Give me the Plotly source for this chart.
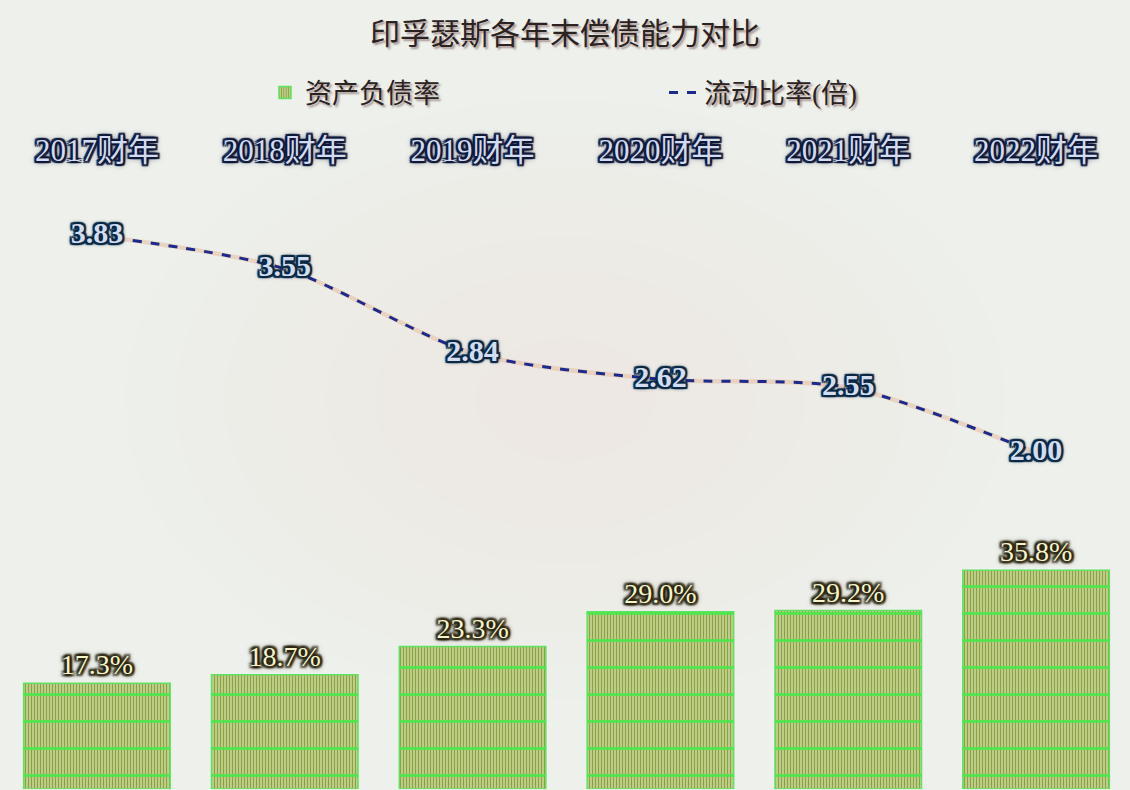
import plotly.graph_objects as go

categories = ["2017财年", "2018财年", "2019财年", "2020财年", "2021财年", "2022财年"]
debt_ratio = [17.3, 18.7, 23.3, 29.0, 29.2, 35.8]
current_ratio = [3.83, 3.55, 2.84, 2.62, 2.55, 2.00]

SERIF = "Liberation Serif, Times New Roman, Noto Sans CJK SC, serif"


def outline(color, r=2, blur=1, glow=4):
    parts = []
    for dx, dy in [(r, 0), (-r, 0), (0, r), (0, -r), (r, r), (-r, -r), (r, -r), (-r, r)]:
        parts.append(f"{dx}px {dy}px {blur}px {color}")
    parts.append(f"0 0 {glow}px {color}")
    return ", ".join(parts)


fig = go.Figure()

# Bars: vertical stripes
fig.add_trace(go.Bar(
    x=categories, y=debt_ratio, name="资产负债率",
    marker=dict(
        color="#c8d894",
        line=dict(color="#5fe25f", width=1.5),
        pattern=dict(shape="|", size=3, solidity=0.5, fgcolor="#8c9e46", bgcolor="#cbdb98", fillmode="replace"),
    ),
    texttemplate="%{y:.1f}%", textposition="outside",
    textfont=dict(family=SERIF, size=28, color="#f3f3cc", shadow=outline("#2a2410", 2, 2, 6)),
    cliponaxis=False, legend="legend", yaxis="y",
))
# Bars: horizontal bright green band lines
fig.add_trace(go.Bar(
    x=categories, y=debt_ratio, showlegend=False, hoverinfo="skip",
    marker=dict(
        color="rgba(255,255,255,0.01)",
        line=dict(width=0),
        pattern=dict(shape="-", size=27, solidity=0.1, fgcolor="#4de64d", fgopacity=1,
                     bgcolor="rgba(255,255,255,0.01)", fillmode="replace"),
    ),
    yaxis="y",
))

# Line glow underlay
fig.add_trace(go.Scatter(
    x=categories, y=current_ratio, mode="lines", showlegend=False, hoverinfo="skip",
    line=dict(color="rgba(230,190,160,0.55)", width=4.5, shape="spline", smoothing=0.8),
    yaxis="y2",
))
fig.add_trace(go.Scatter(
    x=categories, y=current_ratio, mode="lines+text", name="流动比率(倍)",
    line=dict(color="#1b2a8c", width=3, dash="dash", shape="spline", smoothing=0.8),
    text=[f"{v:.2f}" for v in current_ratio], textposition="middle center",
    textfont=dict(family=SERIF, size=30, color="#d3ddef", weight="bold", shadow=outline("#0b2a45", 2, 1, 5)),
    cliponaxis=False, legend="legend2", yaxis="y2",
))

shapes = []
cx, cy = 565, 400
for k in range(8):
    rx = 440 - k * 50
    ry = 300 - k * 34
    shapes.append(dict(
        type="circle", xref="paper", yref="paper", layer="below",
        x0=(cx - rx - 3) / 1127, x1=(cx + rx - 3) / 1127,
        y0=(789 - (cy + ry)) / 621, y1=(789 - (cy - ry)) / 621,
        fillcolor="rgba(255,210,220,0.018)", line=dict(width=0),
    ))

legend_font = dict(family=SERIF, size=27, color="#2b2222", shadow="2px 2px 2px rgba(110,70,70,0.55)")

fig.update_layout(
    width=1130, height=790,
    margin=dict(l=3, r=0, t=168, b=1),
    paper_bgcolor="#edf0eb", plot_bgcolor="rgba(0,0,0,0)",
    barmode="overlay", bargap=0.22,
    title=dict(text="印孚瑟斯各年末偿债能力对比", x=0.5, xanchor="center",
               y=1 - 33 / 790, yanchor="middle", yref="container",
               font=dict(family=SERIF, size=30, color="#2b2222", shadow="2px 2px 2px rgba(110,70,70,0.55)")),
    xaxis=dict(type="category", side="top", showgrid=False, showline=False, ticks="", zeroline=False,
               tickfont=dict(family=SERIF, size=31, color="#d3dbee", shadow=outline("#101a3a", 2, 1, 6))),
    yaxis=dict(range=[0, 101.6], visible=False, fixedrange=True),
    yaxis2=dict(range=[-0.835, 4.40], visible=False, overlaying="y", fixedrange=True),
    legend=dict(orientation="h", xref="container", yref="container", x=265 / 1130, y=1 - 93 / 790,
                xanchor="left", yanchor="middle", font=legend_font, bgcolor="rgba(0,0,0,0)"),
    legend2=dict(orientation="h", xref="container", yref="container", x=664 / 1130, y=1 - 93 / 790,
                 xanchor="left", yanchor="middle", font=legend_font, bgcolor="rgba(0,0,0,0)"),
    shapes=shapes,
    showlegend=True,
)

fig.write_html("out.html", config={"displayModeBar": False},
               post_script="document.body.style.margin='0';")
